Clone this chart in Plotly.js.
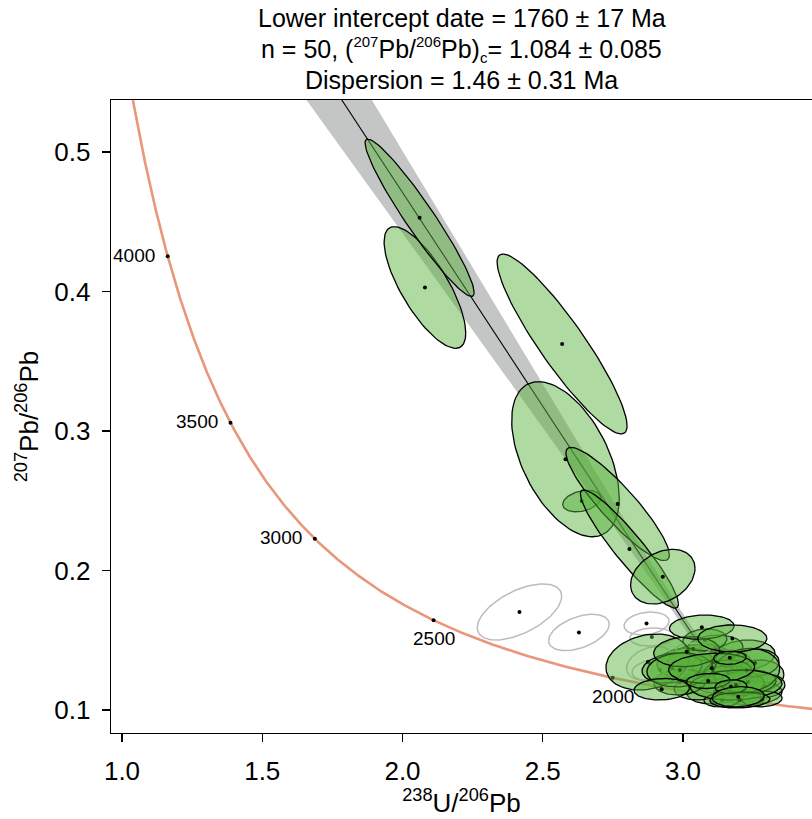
<!DOCTYPE html>
<html><head><meta charset="utf-8">
<script src="https://cdn.plot.ly/plotly-3.0.1.min.js"></script>
<style>html,body{margin:0;padding:0;background:#fff}#chart{width:812px;height:819px}</style>
</head><body><div id="chart"></div>
<script>
// Decay constants (per Ma) and 238U/235U
const LAMBDA238 = 1.55125e-4;
const LAMBDA235 = 9.8485e-4;
const U238_U235 = 137.818;

// Fit results (from the title)
const lowerInterceptAge = 1760;      // Ma
const commonPb76 = 1.084;            // (207Pb/206Pb)c, y-intercept
const commonPb76Err = 0.085;
const bandMinErr = 0.0045;           // half-width of the band at its waist (y units)
const bandSlopeErr = 0.0281;
const bandWaistX = 3.02;

// Title lines
const titleLines = [
  'Lower intercept date = 1760 ± 17 Ma',
  'n = 50, (<sup><span style="font-size:15px">207</span></sup>Pb/<sup><span style="font-size:15px">206</span></sup>Pb)<sub><span style="font-size:15px">c</span></sub>= 1.084 ± 0.085',
  'Dispersion = 1.46 ± 0.31 Ma'
];
const titleOffsets = [82, 51, 20];

// Age ticks on the concordia
const ageTicks = [2000, 2500, 3000, 3500, 4000];
const ageLabelPos = ['below', 'below', 'left', 'left', 'left'];

// Analyses (drawing order): centre, half-widths of the error ellipse, correlation, omitted flag
const U238Pb206 = [2.417,2.629,2.870,
  3.061,3.139,3.221,3.267,3.150,3.114,3.246,3.292,3.196,3.061,3.007,3.114,3.203,3.257,2.989,3.282,3.160,3.078,3.232,3.139,
  2.889,2.882,2.918,3.036,
  2.639,2.581,2.569,2.080,2.061,2.767,2.809,2.928,
  2.875,2.961,2.989,3.227,3.189,3.203,3.013,3.067,3.176,3.102,3.167,3.090,2.924,3.171,3.197];
const sU238Pb206 = [0.1504,0.1080,0.0802,
  0.1141,0.1070,0.1070,0.0927,0.1141,0.0998,0.1070,0.0713,0.0927,0.0927,0.0998,0.0998,0.0856,0.0856,0.0927,0.0713,0.0856,0.0784,0.0998,0.0642,
  0.0784,0.0831,0.0998,0.0606,
  0.0677,0.1918,0.2317,0.1455,0.1943,0.1843,0.1747,0.1148,
  0.1497,0.1070,0.1176,0.1176,0.1640,0.1070,0.1176,0.1152,0.1230,0.1533,0.0581,0.0774,0.0988,0.0570,0.0927];
const Pb207Pb206 = [0.1703,0.1556,0.1620,
  0.1358,0.1323,0.1394,0.1244,0.1215,0.1129,0.1122,0.1172,0.1072,0.1158,0.1337,0.1444,0.1186,0.1337,0.1201,0.1079,0.1272,0.1502,0.1201,0.1072,
  0.1523,0.1335,0.1287,0.1437,
  0.2498,0.2798,0.3624,0.4029,0.4529,0.2477,0.2154,0.1956,
  0.1344,0.1301,0.1287,0.1283,0.1179,0.1072,0.1418,0.1594,0.1513,0.1299,0.1374,0.1208,0.1149,0.1167,0.1095];
const sPb207Pb206 = [0.0201,0.0130,0.0082,
  0.0115,0.0108,0.0108,0.0115,0.0100,0.0086,0.0086,0.0086,0.0057,0.0086,0.0108,0.0093,0.0086,0.0100,0.0093,0.0057,0.0086,0.0079,0.0086,0.0050,
  0.0065,0.0120,0.0086,0.0043,
  0.0077,0.0556,0.0645,0.0436,0.0564,0.0406,0.0423,0.0196,
  0.0201,0.0108,0.0122,0.0158,0.0108,0.0057,0.0108,0.0087,0.0097,0.0108,0.0047,0.0054,0.0077,0.0050,0.0072];
const rho = [0.56,0.45,0.20,
  0.1,0.1,0.1,0.1,0.1,0.1,0.1,0.1,0.1,0.1,0.1,0.1,0.1,0.1,0.1,0.1,0.1,0.1,0.1,0.1,
  0.1,0.3,0.2,0.0,
  0.3,-0.5,-0.91,-0.75,-0.95,-0.9,-0.93,0.3,
  0.2,0.2,0.1,0.1,0.1,0.1,0.1,0.1,0.0,0.1,0.1,0.1,0.1,0.1,0.1];
const omitted = [1,1,1,
  0,0,0,0,0,0,0,0,0,0,0,0,0,0,0,0,0,0,0,0,
  1,1,1,1,
  0,0,0,0,0,0,0,0,
  0,0,0,0,0,0,0,0,0,0,0,0,0,0,0];

const FONT = 'Liberation Sans, Arial, Helvetica, sans-serif';
const FILL = 'rgba(88,178,58,0.48)';

function tw(t) { // Tera-Wasserburg coordinates of age t (Ma)
  const e8 = Math.exp(LAMBDA238 * t) - 1, e5 = Math.exp(LAMBDA235 * t) - 1;
  return [1 / e8, e5 / e8 / U238_U235];
}

const traces = [];

// discordia line + band
const [xl, yl] = tw(lowerInterceptAge);
const slope = (yl - commonPb76) / xl;
const bx = [], bu = [], bd = [];
for (let i = 0; i <= 200; i++) {
  const x = xl * i / 200;
  const hw = Math.sqrt(bandMinErr ** 2 + (bandSlopeErr * (x - bandWaistX)) ** 2);
  bx.push(x); bu.push(commonPb76 + slope * x + hw); bd.push(commonPb76 + slope * x - hw);
}
traces.push({x: bx.concat(bx.slice().reverse()), y: bu.concat(bd.slice().reverse()),
  mode: 'lines', fill: 'toself', fillcolor: 'rgb(196,197,197)', line: {width: 0},
  hoverinfo: 'skip', showlegend: false});
traces.push({x: [0, xl], y: [commonPb76, yl], mode: 'lines', line: {color: 'black', width: 1.1},
  hoverinfo: 'skip', showlegend: false});

// concordia
const cx = [], cy = [];
for (let t = 1200; t <= 4600; t += 5) { const p = tw(t); cx.push(p[0]); cy.push(p[1]); }
traces.push({x: cx, y: cy, mode: 'lines', line: {color: '#E9967A', width: 2.6},
  hoverinfo: 'skip', showlegend: false});
const ageXY = ageTicks.map(tw);
traces.push({x: ageXY.map(p => p[0]), y: ageXY.map(p => p[1]), mode: 'markers',
  marker: {color: 'black', size: 4}, hoverinfo: 'skip', showlegend: false});

// error ellipses
for (let i = 0; i < U238Pb206.length; i++) {
  const ex = [], ey = [], r = rho[i], q = Math.sqrt(1 - r * r);
  for (let k = 0; k <= 96; k++) {
    const a = 2 * Math.PI * k / 96;
    ex.push(U238Pb206[i] + sU238Pb206[i] * Math.cos(a));
    ey.push(Pb207Pb206[i] + sPb207Pb206[i] * (r * Math.cos(a) + q * Math.sin(a)));
  }
  const om = omitted[i] === 1;
  traces.push({x: ex, y: ey, mode: 'lines', fill: om ? 'none' : 'toself',
    fillcolor: FILL, line: {color: om ? 'rgb(188,188,188)' : 'black', width: om ? 1.5 : 1.3},
    hoverinfo: 'skip', showlegend: false});
  traces.push({x: [U238Pb206[i]], y: [Pb207Pb206[i]], mode: 'markers',
    marker: {color: 'black', size: 4}, hoverinfo: 'skip', showlegend: false});
}

const annotations = ageTicks.map((t, i) => {
  const left = ageLabelPos[i] === 'left';
  return {x: ageXY[i][0], y: ageXY[i][1], xref: 'x', yref: 'y', text: String(t), showarrow: false,
    font: {family: FONT, size: 19, color: 'black'},
    xanchor: left ? 'right' : 'center', yanchor: left ? 'middle' : 'top',
    xshift: left ? -11 : 0, yshift: left ? 1 : -6};
});
titleLines.forEach((txt, i) => {
  annotations.push({x: 0.5, y: 1, xref: 'paper', yref: 'paper', text: txt, showarrow: false,
    font: {family: FONT, size: 25, color: 'black'}, xanchor: 'center', yanchor: 'middle',
    yshift: titleOffsets[i]});
});

const layout = {
  width: 812, height: 819,
  margin: {l: 111, r: 0, t: 100, b: 86},
  paper_bgcolor: 'white', plot_bgcolor: 'white',
  showlegend: false,
  xaxis: {range: [0.9608, 3.4599], tickvals: [1, 1.5, 2, 2.5, 3], tickformat: '.1f',
    showline: true, mirror: true, linecolor: 'black', linewidth: 1.3,
    ticks: 'outside', ticklen: 8, tickwidth: 1.3, tickcolor: 'black',
    showgrid: false, zeroline: false, ticklabelstandoff: 6,
    tickfont: {family: FONT, size: 26, color: 'black'},
    title: {text: '<sup>238</sup>U/<sup>206</sup>Pb', font: {family: FONT, size: 26, color: 'black'}, standoff: 8}},
  yaxis: {range: [0.08351, 0.5373], tickvals: [0.1, 0.2, 0.3, 0.4, 0.5], tickformat: '.1f',
    showline: true, mirror: false, linecolor: 'black', linewidth: 1.3,
    ticks: 'outside', ticklen: 8, tickwidth: 1.3, tickcolor: 'black',
    showgrid: false, zeroline: false, ticklabelstandoff: 6,
    tickfont: {family: FONT, size: 26, color: 'black'},
    title: {text: '<sup>207</sup>Pb/<sup>206</sup>Pb', font: {family: FONT, size: 26, color: 'black'}, standoff: 8}},
  annotations: annotations
};

Plotly.newPlot('chart', traces, layout, {staticPlot: true, displayModeBar: false});
</script></body></html>
